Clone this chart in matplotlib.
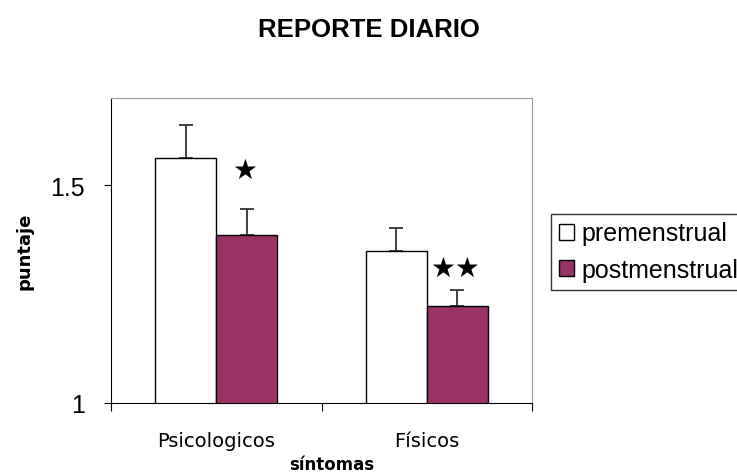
import matplotlib.pyplot as plt
import numpy as np

categories = ['Psicologicos', 'Físicos']
pre = [1.563, 1.349]
post = [1.385, 1.2225]
pre_err = [0.076, 0.053]
post_err = [0.060, 0.036]
stars = ['★', '★★']
star_y = [1.535, 1.309]

fig = plt.figure(figsize=(7.37, 4.77), dpi=100)
ax = fig.add_axes([111/737, 1 - 404/477, (532 - 111)/737, (404 - 99)/477])

x = np.array([0.5, 1.5])
w = 0.29
ax.bar(x - w/2, pre, w, color='white', edgecolor='black', linewidth=1, label='premenstrual', zorder=2)
ax.bar(x + w/2, post, w, color='#993366', edgecolor='black', linewidth=1, label='postmenstrual', zorder=2)
ax.errorbar(x - w/2, pre, yerr=[[0, 0], pre_err], fmt='none', ecolor='#333333',
            elinewidth=1.3, capsize=5, capthick=1.3, zorder=1)
ax.errorbar(x + w/2, post, yerr=[[0, 0], post_err], fmt='none', ecolor='#333333',
            elinewidth=1.3, capsize=5, capthick=1.3, zorder=1)

for xi, s, sy in zip(x + w/2, stars, star_y):
    ax.text(xi - 0.01, sy, s, ha='center', va='center', fontsize=20,
            family=['DejaVu Sans'], color='black')

ax.set_xlim(0, 2)
ax.set_ylim(1, 1.7)
ax.set_yticks([1, 1.5])
ax.set_yticklabels(['1', '1.5'], fontsize=18, family='Liberation Sans')
ax.set_xticks([0, 1, 2])
ax.set_xticklabels([])
ax.set_xticks(x, minor=True)
ax.set_xticklabels(categories, minor=True, fontsize=14)
ax.tick_params(axis='x', which='minor', length=0, pad=20)
ax.tick_params(axis='x', which='major', length=6, direction='out')
ax.tick_params(axis='y', length=5, direction='out', pad=14)
for side in ['top', 'right']:
    ax.spines[side].set_color('#999999')
ax.set_xlabel('síntomas', fontsize=12, fontweight='bold')
ax.xaxis.set_label_coords(0.524, -0.17)
ax.set_ylabel('puntaje', fontsize=13, fontweight='bold', labelpad=12)

fig.suptitle('REPORTE DIARIO', x=0.5, y=1 - 30/477, va='center', fontsize=18.5,
             fontweight='bold', family='Liberation Sans')

leg = fig.legend(loc='upper left', bbox_to_anchor=(551/737, 1 - 215/477),
                 prop={'family': 'Liberation Sans', 'size': 18}, frameon=True,
                 fancybox=False, edgecolor='black', handlelength=0.6, handleheight=0.6,
                 handletextpad=0.3, borderpad=0.3, labelspacing=0.5, borderaxespad=0)
leg.get_frame().set_linewidth(1)

fig.savefig('out.png', dpi=100)
